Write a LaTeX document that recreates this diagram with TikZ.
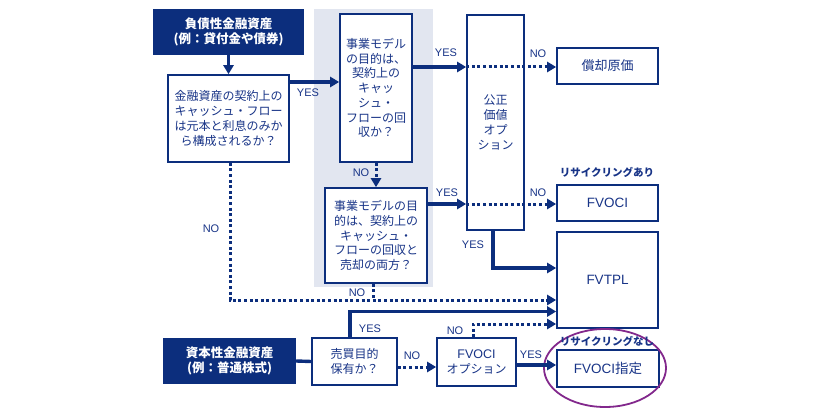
\documentclass[tikz,border=0pt]{standalone}
\usepackage{fontspec}
\setmainfont{Liberation Sans}
\newfontfamily\jp{Noto Sans CJK JP}
\usetikzlibrary{arrows.meta}
\definecolor{navy}{RGB}{12,46,125}
\definecolor{txt}{RGB}{24,52,135}
\definecolor{bgshade}{RGB}{226,230,240}
\definecolor{purp}{RGB}{130,40,140}
\tikzset{
  box/.style={draw=navy, line width=1.6pt, fill=white, text=txt, align=center, inner sep=0pt,
    font=\jp\fontsize{12}{14.7}\selectfont},
  darkbox/.style={fill=navy, text=white, align=center, inner sep=0pt,
    font=\jp\bfseries\fontsize{12.5}{15.5}\selectfont},
  big/.style={box, font=\rmfamily\fontsize{13.5}{16}\selectfont},
  arr/.style={draw=navy, line width=3.4pt, -{Triangle[length=9pt,width=10pt]}},
  solidline/.style={draw=navy, line width=3.4pt},
  dotline/.style={draw=navy, line width=3pt, dash pattern=on 3pt off 2.6pt},
  dotarr/.style={dotline, -{Triangle[length=9pt,width=10pt]}},
  lab/.style={text=txt, inner sep=0pt, font=\rmfamily\fontsize{11}{13}\selectfont},
  sublab/.style={text=txt, inner sep=0pt, font=\jp\bfseries\fontsize{10.5}{12}\selectfont},
}
\begin{document}
\begin{tikzpicture}[x=1pt,y=-1pt]
\useasboundingbox (0,0) rectangle (820,420);
\fill[bgshade] (314,9) rectangle (433,287);

% nodes
\node[darkbox, minimum width=151, minimum height=46] (d1) at (228.5,32) {負債性金融資産\\(例：貸付金や債券)};
\node[box, minimum width=121, minimum height=87] (b2) at (228.5,118.5) {金融資産の契約上の\\キャッシュ・フロー\\は元本と利息のみか\\ら構成されるか？};
\node[box, minimum width=72, minimum height=148] (b3) at (376,88) {事業モデル\\の目的は、\\契約上の\\キャッ\\シュ・\\フローの回\\収か？};
\node[box, minimum width=102, minimum height=95] (b4) at (376,235.5) {事業モデルの目\\的は、契約上の\\キャッシュ・\\フローの回収と\\売却の両方？};
\node[box, minimum width=57, minimum height=215] (fv) at (495.5,122.5) {公正\\価値\\オプ\\ション};
\node[box, minimum width=101, minimum height=36, font=\jp\fontsize{13}{15}\selectfont] (ac) at (607.5,66) {償却原価};
\node[big, minimum width=101, minimum height=36] (fvoci) at (607.5,203) {FVOCI};
\node[big, minimum width=101, minimum height=96] (fvtpl) at (607.5,280) {FVTPL};
\node[darkbox, minimum width=133, minimum height=46] (d2) at (229.5,361) {資本性金融資産\\(例：普通株式)};
\node[box, minimum width=85, minimum height=47] (b5) at (354.5,361.5) {売買目的\\保有か？};
\node[box, minimum width=79, minimum height=48] (b6) at (476.5,362) {{\rmfamily\fontsize{12.5}{14.7}\selectfont FVOCI}\\オプション};
\node[box, minimum width=102, minimum height=37, font=\rmfamily\fontsize{13.5}{16}\selectfont] (b7) at (608,368.5) {FVOCI{\jp 指定}};
\draw[purp, line width=1.8pt] (605,368) ellipse [x radius=61, y radius=39];

\node[sublab] (s1) at (607,172) {リサイクリングあり};
\node[sublab] (s2) at (607,341) {リサイクリングなし};

% connectors
\draw[arr] (d1.south) -- (b2.north);
\draw[arr] (b2.east |- 0,82) -- (b3.west |- 0,82);
\draw[arr] (b3.east |- 0,67) -- (fv.west |- 0,67);
\draw[dotarr] (fv.west |- 0,67) -- (ac.west |- 0,67);
\draw[dotarr] (b3.south) -- (b4.north);
\draw[arr] (b4.east |- 0,204) -- (fv.west |- 0,204);
\draw[dotarr] (fv.west |- 0,204) -- (fvoci.west |- 0,204);
\draw[arr] (fv.south -| 493,0) |- (fvtpl.west |- 0,268);
\draw[dotarr] (b2.south -| 230,0) |- (fvtpl.west |- 0,300);
\draw[dotline] (b4.south -| 373,0) -- (373,300);
\draw[solidline] (d2.east) -- (b5.west);
\draw[arr] (b5.north -| 350,0) |- (fvtpl.west |- 0,311.5);
\draw[dotarr] (b5.east |- 0,367) -- (b6.west |- 0,367);
\draw[dotarr] (b6.north -| 473,0) |- (fvtpl.west |- 0,324);
\draw[arr] (b6.east |- 0,365) -- (b7.west |- 0,365);

% labels
\node[lab] (l1) at (308,93) {YES};
\node[lab] (l2) at (446,53) {YES};
\node[lab] (l3) at (538,54) {NO};
\node[lab] (l4) at (361,173) {NO};
\node[lab] (l5) at (447,193) {YES};
\node[lab] (l6) at (538,193) {NO};
\node[lab] (l7) at (473,245) {YES};
\node[lab] (l8) at (211,229) {NO};
\node[lab] (l9) at (357,293) {NO};
\node[lab] (l10) at (370,329) {YES};
\node[lab] (l11) at (412,356) {NO};
\node[lab] (l12) at (455,331) {NO};
\node[lab] (l13) at (531,355) {YES};
\end{tikzpicture}
\end{document}
